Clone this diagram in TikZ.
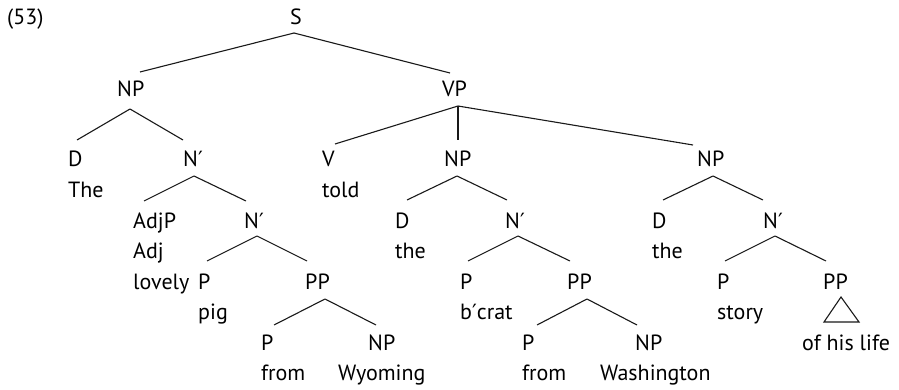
\documentclass[tikz,border=0pt]{standalone}
\usepackage{fontspec}
\setmainfont{PT Sans}
\newfontfamily\primefont{DejaVu Sans}
\newcommand{\pr}{{\primefont\fontsize{21}{25}\selectfont ′}}
\usetikzlibrary{calc}
\tikzset{
  lbl/.style={anchor=base west, inner sep=0pt, font=\fontsize{22}{26}\selectfont},
  branch/.style={line width=1.1pt, black!90}
}
\newcommand{\br}[6]{\draw[branch] ($(#1.base west)+(#2,#3)$) -- ($(#4.base west)+(#5,#6)$);}
\begin{document}
\begin{tikzpicture}[x=1pt,y=-1pt]
\useasboundingbox (0,0) rectangle (899,390);
% row 0
\node[lbl] (ex) at (7,25) {(53)};
\node[lbl] (S) at (290,25) {S};
% row 1
\node[lbl] (NPa) at (117,97) {NP};
\node[lbl] (VP) at (442,97) {VP};
% row 2
\node[lbl] (Da) at (68,167) {D};
\node[lbl] (Nba) at (183,167) {N\pr};
\node[lbl] (V) at (322,167) {V};
\node[lbl] (NPb) at (444,167) {NP};
\node[lbl] (NPc) at (697,167) {NP};
\node[lbl] (wThe) at (68,197.5) {The};
\node[lbl] (wtold) at (322,197.5) {told};
% row 3
\node[lbl] (AdjP) at (133,228) {AdjP};
\node[lbl] (Nbb) at (244,228) {N\pr};
\node[lbl] (Db) at (395,228) {D};
\node[lbl] (Nbc) at (505,228) {N\pr};
\node[lbl] (Dd) at (652,228) {D};
\node[lbl] (Nbd) at (763,228) {N\pr};
\node[lbl] (Adj) at (133,258.5) {Adj};
\node[lbl] (wtheb) at (395,258.5) {the};
\node[lbl] (wthed) at (652,258.5) {the};
% row 4
\node[lbl] (wlovely) at (133,289) {lovely};
\node[lbl] (Pa) at (198,289) {P};
\node[lbl] (PPa) at (305,289) {PP};
\node[lbl] (Pb) at (460,289) {P};
\node[lbl] (PPb) at (567,289) {PP};
\node[lbl] (Pc) at (717,289) {P};
\node[lbl] (PPc) at (823,289) {PP};
\node[lbl] (wpig) at (198,319.5) {pig};
\node[lbl] (wbcrat) at (460,319.5) {b\pr crat};
\node[lbl] (wstory) at (717,319.5) {story};
% row 5
\node[lbl] (Pd) at (261,350) {P};
\node[lbl] (NPd) at (368,350) {NP};
\node[lbl] (Pe) at (522,350) {P};
\node[lbl] (NPe) at (635,350) {NP};
\node[lbl] (wlife) at (802,350) {of his life};
\node[lbl] (wfroma) at (261,380.5) {from};
\node[lbl] (wWyoming) at (338,380.5) {Wyoming};
\node[lbl] (wfromb) at (522,380.5) {from};
\node[lbl] (wWashington) at (600,380.5) {Washington};
% branches
\br{S}{4}{8}{NPa}{23}{-25}
\br{S}{4}{8}{VP}{8}{-24}
\br{NPa}{13}{12}{Da}{9}{-27}
\br{NPa}{13}{12}{Nba}{0}{-27}
\br{VP}{16}{9}{V}{13}{-23}
\br{VP}{16}{9}{NPb}{14}{-27}
\br{VP}{16}{9}{NPc}{-4}{-22}
\br{Nba}{11}{9}{AdjP}{11}{-27}
\br{Nba}{11}{9}{Nbb}{2}{-27}
\br{Nbb}{13}{8}{Pa}{9}{-28}
\br{Nbb}{13}{8}{PPa}{2}{-28}
\br{PPa}{20}{10}{Pd}{13}{-25}
\br{PPa}{20}{10}{NPd}{8}{-25}
\br{NPb}{13}{9}{Db}{12}{-28}
\br{NPb}{13}{9}{Nbc}{2}{-28}
\br{Nbc}{13}{8}{Pb}{8}{-28}
\br{Nbc}{13}{8}{PPb}{3}{-28}
\br{PPb}{20}{10}{Pe}{15}{-25}
\br{PPb}{20}{10}{NPe}{2}{-25}
\br{NPc}{16}{9}{Dd}{11}{-28}
\br{NPc}{16}{9}{Nbd}{0}{-28}
\br{Nbd}{12}{8}{Pc}{8}{-28}
\br{Nbd}{12}{8}{PPc}{3}{-28}
% triangle
\draw[branch, line join=miter] ($(PPc.base west)+(18,8)$) -- ($(PPc.base west)+(1,33)$) -- ($(PPc.base west)+(36,33)$) -- cycle;
\end{tikzpicture}
\end{document}
